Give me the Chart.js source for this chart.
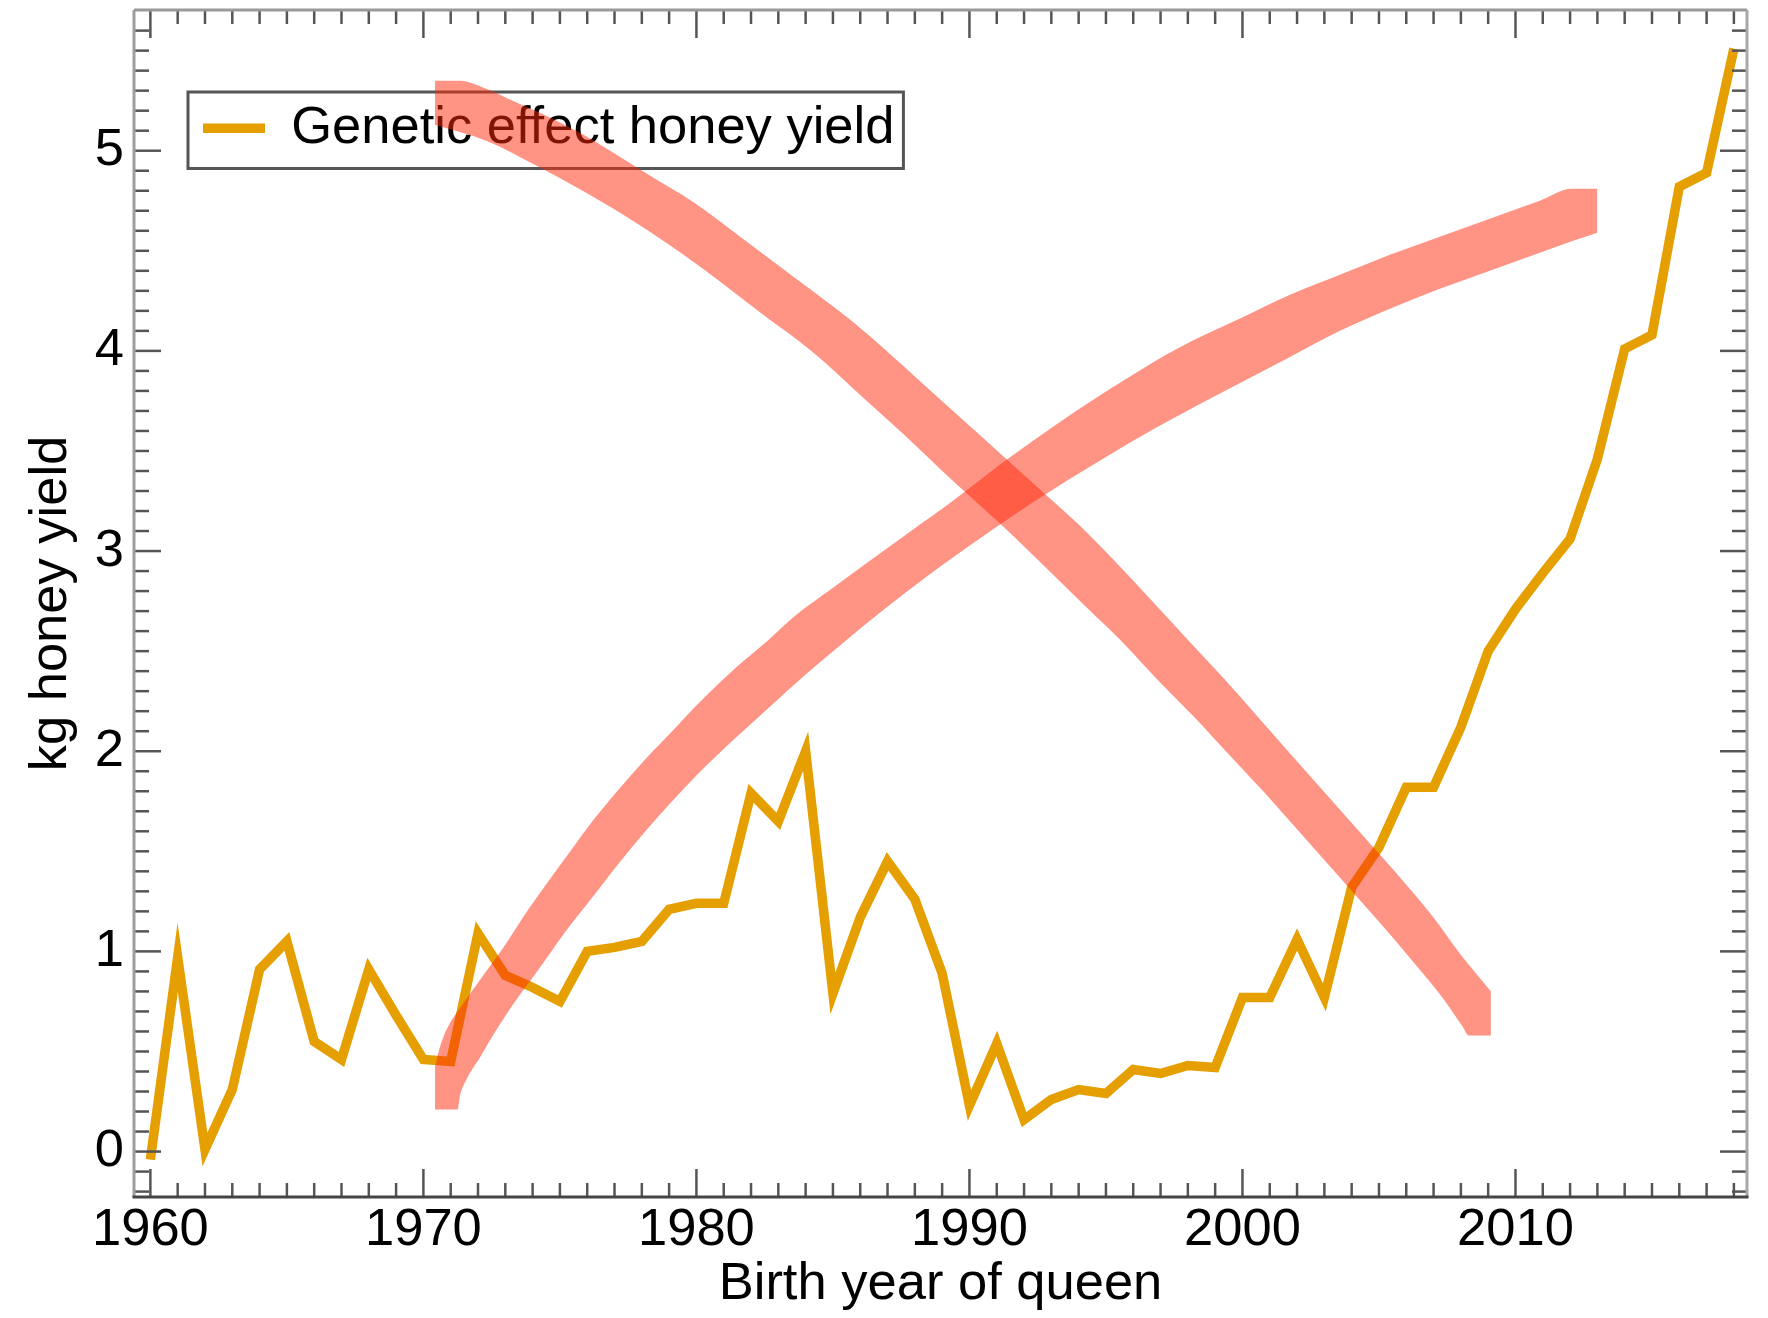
<!DOCTYPE html>
<html>
<head>
<meta charset="utf-8">
<title>Genetic effect honey yield</title>
<script src="https://cdn.jsdelivr.net/npm/chart.js@4.4.1/dist/chart.umd.min.js"></script>
<style>
  html, body { margin: 0; padding: 0; background: #ffffff; }
  #wrap { width: 1768px; height: 1318px; }
</style>
</head>
<body>
<div id="wrap"><canvas id="chart" width="1768" height="1318"></canvas></div>
<script>
// Birth year of queen and genetic effect on honey yield (kg)
const years = [
  1960, 1961, 1962, 1963, 1964, 1965, 1966, 1967, 1968, 1969,
  1970, 1971, 1972, 1973, 1974, 1975, 1976, 1977, 1978, 1979,
  1980, 1981, 1982, 1983, 1984, 1985, 1986, 1987, 1988, 1989,
  1990, 1991, 1992, 1993, 1994, 1995, 1996, 1997, 1998, 1999,
  2000, 2001, 2002, 2003, 2004, 2005, 2006, 2007, 2008, 2009,
  2010, 2011, 2012, 2013, 2014, 2015, 2016, 2017, 2018
];
const honeyYield = [
  -0.04, 0.97, 0.01, 0.31, 0.91, 1.05, 0.55, 0.46, 0.91, 0.68,
  0.46, 0.45, 1.09, 0.88, 0.82, 0.75, 1.00, 1.02, 1.05, 1.21,
  1.24, 1.24, 1.79, 1.65, 2.00, 0.79, 1.17, 1.45, 1.26, 0.89,
  0.23, 0.54, 0.16, 0.26, 0.31, 0.29, 0.41, 0.39, 0.43, 0.42,
  0.77, 0.77, 1.06, 0.77, 1.32, 1.52, 1.82, 1.82, 2.12, 2.50,
  2.71, 2.89, 3.06, 3.46, 4.01, 4.08, 4.82, 4.89, 5.51
];

// Falling red stroke: upper and lower edge
const fallTopYears = [1970.42, 1971.33, 1972.30, 1973.27, 1974.57, 1975.86, 1976.84, 1978.13, 1979.92, 1981.70,
  1983.65, 1985.59, 1987.21, 1988.83, 1990.46, 1992.40, 1994.02, 1995.32, 1996.62, 1997.91,
  1999.21, 2000.51, 2001.80, 2003.10, 2004.40, 2005.70, 2006.99, 2007.96, 2009.10];
const fallTopValues = [5.35, 5.35, 5.31, 5.25, 5.17, 5.08, 5.00, 4.89, 4.74, 4.56,
  4.36, 4.16, 3.97, 3.77, 3.57, 3.33, 3.13, 2.95, 2.76, 2.57,
  2.38, 2.18, 1.98, 1.78, 1.58, 1.38, 1.17, 0.99, 0.80];
const fallBottomYears = [1970.42, 1972.30, 1974.08, 1975.70, 1977.32, 1979.11, 1980.73, 1982.35, 1984.30, 1985.92,
  1987.54, 1989.48, 1991.10, 1992.40, 1994.35, 1995.64, 1996.94, 1998.24, 1999.53, 2000.83,
  2002.13, 2003.43, 2005.05, 2006.18, 2007.32, 2008.05, 2008.29, 2009.10];
const fallBottomValues = [5.13, 5.05, 4.93, 4.81, 4.68, 4.52, 4.36, 4.19, 3.99, 3.79,
  3.59, 3.34, 3.14, 2.97, 2.71, 2.54, 2.35, 2.17, 1.98, 1.79,
  1.59, 1.39, 1.14, 0.96, 0.77, 0.627, 0.58, 0.58];

// Rising red stroke: upper and lower edge
const riseTopYears = [1970.42, 1970.60, 1970.85, 1971.46, 1972.19, 1972.93, 1973.90, 1975.22, 1976.19, 1977.16,
  1978.13, 1979.11, 1980.08, 1981.38, 1982.67, 1983.65, 1984.94, 1986.24, 1987.86, 1989.48,
  1991.10, 1993.05, 1994.35, 1995.97, 1997.59, 1999.89, 2001.74, 2003.57, 2005.40, 2007.23,
  2009.06, 2010.89, 2012.06, 2013.00];
const riseTopValues = [0.42, 0.52, 0.61, 0.74, 0.88, 1.02, 1.22, 1.47, 1.65, 1.81,
  1.96, 2.10, 2.24, 2.41, 2.56, 2.68, 2.81, 2.94, 3.10, 3.26,
  3.43, 3.62, 3.74, 3.88, 4.01, 4.16, 4.28, 4.38, 4.48, 4.57,
  4.66, 4.75, 4.81, 4.81];
const riseBottomYears = [1970.42, 1971.25, 1971.34, 1971.58, 1972.07, 1972.68, 1973.41, 1974.27, 1975.10, 1976.19,
  1977.16, 1978.13, 1979.11, 1980.08, 1981.38, 1982.67, 1983.97, 1985.27, 1986.89, 1988.51,
  1990.46, 1992.40, 1995.00, 1996.62, 1999.21, 2001.74, 2003.57, 2005.40, 2007.23, 2009.06,
  2010.89, 2012.11, 2013.00];
const riseBottomValues = [0.21, 0.21, 0.28, 0.36, 0.47, 0.61, 0.76, 0.92, 1.08, 1.27,
  1.44, 1.60, 1.75, 1.89, 2.06, 2.22, 2.38, 2.53, 2.71, 2.88,
  3.07, 3.25, 3.47, 3.60, 3.79, 3.97, 4.10, 4.21, 4.31, 4.40,
  4.49, 4.55, 4.59];

const xTickLabels = [1960, 1970, 1980, 1990, 2000, 2010];
const yTickLabels = [0, 1, 2, 3, 4, 5];

const ORANGE = '#E69F00';
const RED = 'rgba(255, 40, 10, 0.5)';
const FONT_SIZE = 52.5;

function toPoints(xs, ys) {
  return xs.map((x, i) => ({ x: x, y: ys[i] }));
}

/**
 * Inward tick marks and box frame (minor ticks every year / 0.1 kg)
 */
const frameTicks = {
  id: 'frameTicks',
  afterDraw(chart) {
    const { ctx, chartArea: a, scales: { x, y } } = chart;
    const seg = (x1, y1, x2, y2) => {
      ctx.beginPath();
      ctx.moveTo(x1, y1);
      ctx.lineTo(x2, y2);
      ctx.stroke();
    };
    ctx.save();
    ctx.lineCap = 'butt';
    ctx.strokeStyle = '#555';
    ctx.lineWidth = 2.5;
    for (let yr = 1960; yr <= 2018; yr++) {
      const px = x.getPixelForValue(yr);
      const len = yr % 10 === 0 ? 28 : 14;
      seg(px, a.bottom, px, a.bottom - len);
      seg(px, a.top, px, a.top + len);
    }
    for (let k = -2; k <= 56; k++) {
      const py = y.getPixelForValue(k / 10);
      const len = k % 10 === 0 ? 27 : 15;
      seg(a.left, py, a.left + len, py);
      seg(a.right, py, a.right - len, py);
    }
    ctx.lineWidth = 3;
    ctx.strokeStyle = '#9e9e9e';
    seg(a.left, a.top, a.left, a.bottom);
    ctx.strokeStyle = '#999';
    seg(a.left, a.top, a.right, a.top);
    ctx.strokeStyle = '#a8a8a8';
    seg(a.right, a.top, a.right, a.bottom);
    ctx.strokeStyle = '#444';
    seg(a.left - 1.5, a.bottom, a.right + 1.5, a.bottom);
    ctx.restore();
  }
};

/**
 * Box around the legend entry, drawn under the datasets
 */
const legendFrame = {
  id: 'legendFrame',
  beforeDatasetsDraw(chart) {
    const hb = chart.legend && chart.legend.legendHitBoxes && chart.legend.legendHitBoxes[0];
    if (!hb) return;
    const ctx = chart.ctx;
    ctx.save();
    ctx.strokeStyle = '#555';
    ctx.lineWidth = 3;
    ctx.strokeRect(hb.left - 15, hb.top - 10, hb.width + 24, hb.height + 24);
    ctx.restore();
  }
};

Chart.defaults.font.family = "'Liberation Sans', Arial, Helvetica, sans-serif";
Chart.defaults.color = '#000';

const ctx = document.getElementById('chart').getContext('2d');

const config = {
  type: 'line',
  data: {
    datasets: [
      {
        label: 'falling',
        data: toPoints(fallTopYears, fallTopValues),
        borderWidth: 0,
        pointRadius: 0,
        backgroundColor: RED,
        fill: '+1',
        cubicInterpolationMode: 'monotone'
      },
      {
        label: 'falling lower',
        data: toPoints(fallBottomYears, fallBottomValues),
        borderWidth: 0,
        pointRadius: 0,
        fill: false,
        cubicInterpolationMode: 'monotone'
      },
      {
        label: 'rising',
        data: toPoints(riseTopYears, riseTopValues),
        borderWidth: 0,
        pointRadius: 0,
        backgroundColor: RED,
        fill: '+1',
        cubicInterpolationMode: 'monotone'
      },
      {
        label: 'rising lower',
        data: toPoints(riseBottomYears, riseBottomValues),
        borderWidth: 0,
        pointRadius: 0,
        fill: false,
        cubicInterpolationMode: 'monotone'
      },
      {
        label: 'Genetic effect honey yield',
        data: toPoints(years, honeyYield),
        borderColor: ORANGE,
        backgroundColor: ORANGE,
        borderWidth: 9.5,
        pointRadius: 0,
        tension: 0,
        fill: false
      }
    ]
  },
  options: {
    responsive: false,
    animation: false,
    devicePixelRatio: 1,
    layout: { padding: { top: 10, right: 21, bottom: 0, left: 0 } },
    scales: {
      x: {
        type: 'linear',
        min: 1959.4,
        max: 2018.48,
        afterBuildTicks: (s) => { s.ticks = xTickLabels.map(v => ({ value: v })); },
        afterFit: (s) => { s.height = 121; s.paddingLeft = 0; s.paddingRight = 0; },
        grid: { display: false, drawTicks: false },
        border: { display: false },
        ticks: {
          padding: 2,
          color: '#000',
          font: { size: FONT_SIZE },
          maxRotation: 0,
          autoSkip: false,
          callback: (v) => String(v)
        },
        title: {
          display: true,
          text: 'Birth year of queen',
          color: '#000',
          font: { size: FONT_SIZE },
          padding: { top: 0, bottom: 2 }
        }
      },
      y: {
        type: 'linear',
        min: -0.227,
        max: 5.703,
        afterBuildTicks: (s) => { s.ticks = yTickLabels.map(v => ({ value: v })); },
        afterFit: (s) => { s.width = 134; s.paddingTop = 0; s.paddingBottom = 0; },
        grid: { display: false, drawTicks: false },
        border: { display: false },
        ticks: {
          padding: 10,
          color: '#000',
          font: { size: FONT_SIZE }
        },
        title: {
          display: true,
          text: 'kg honey yield',
          color: '#000',
          font: { size: FONT_SIZE },
          padding: { top: 20, bottom: 0 }
        }
      }
    },
    plugins: {
      legend: {
        position: 'chartArea',
        align: 'start',
        title: { display: true, text: '', padding: { top: 23, bottom: 0 }, font: { size: 10, lineHeight: 1 } },
        labels: {
          filter: (item) => item.datasetIndex === 4,
          usePointStyle: true,
          pointStyle: 'line',
          pointStyleWidth: 62,
          boxWidth: 62,
          padding: 69,
          color: '#000',
          font: { size: FONT_SIZE }
        }
      },
      tooltip: { enabled: false }
    }
  },
  plugins: [legendFrame, frameTicks]
};

const chart = new Chart(ctx, config);
</script>
</body>
</html>
